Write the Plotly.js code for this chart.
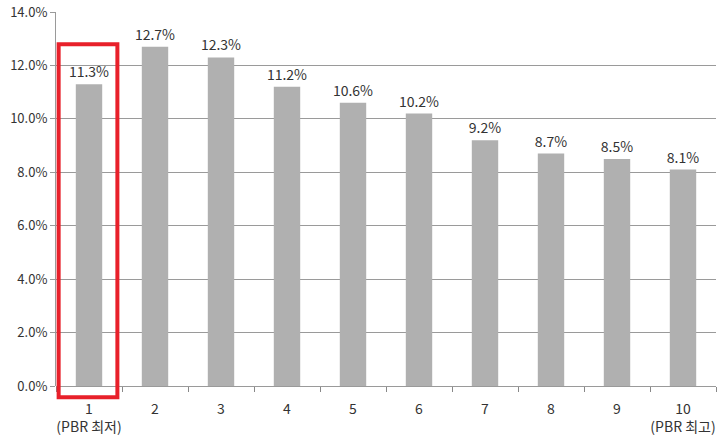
<!DOCTYPE html>
<html><head><meta charset="utf-8">
<script src="https://cdn.plot.ly/plotly-3.0.1.min.js"></script>
<style>html,body{margin:0;padding:0;background:#fff;}#chart{width:719px;height:439px;}</style>
</head><body><div id="chart"></div>
<script>
const categories = ['1','2','3','4','5','6','7','8','9','10'];
const tickLabels = ['1<br>(PBR 최저)','2','3','4','5','6','7','8','9','10<br>(PBR 최고)'];
const values = [11.3, 12.7, 12.3, 11.2, 10.6, 10.2, 9.2, 8.7, 8.5, 8.1];

const fontFam = '"Noto Sans CJK KR", "Noto Sans", sans-serif';
const trace = {
  type: 'bar',
  x: categories,
  y: values,
  marker: {color: '#b0b0b0'},
  text: values.map(v => v.toFixed(1) + '%'),
  textposition: 'outside',
  constraintext: 'none',
  cliponaxis: false,
  textfont: {family: fontFam, size: 14, color: '#333'},
  hoverinfo: 'none'
};
const layout = {
  width: 719, height: 439,
  margin: {l: 56, r: 3, t: 12, b: 53},
  paper_bgcolor: '#fff', plot_bgcolor: '#fff',
  showlegend: false,
  bargap: 0.6,
  font: {family: fontFam, size: 13, color: '#333'},
  xaxis: {
    type: 'category',
    tickvals: categories, ticktext: tickLabels,
    tickangle: 0,
    ticklabelstandoff: 13,
    tickson: 'boundaries', ticks: 'outside', ticklen: 5, tickcolor: '#888',
    showline: false, showgrid: false, zeroline: false,
    tickfont: {family: fontFam, size: 14, color: '#333'},
    range: [-0.5, 9.5]
  },
  yaxis: {
    range: [0, 14], dtick: 2, tickformat: '.1f', ticksuffix: '%',
    showgrid: true, gridcolor: '#9a9a9a', gridwidth: 1,
    showline: true, linecolor: '#9a9a9a', linewidth: 1,
    ticks: 'outside', ticklen: 5, tickcolor: '#9a9a9a',
    zeroline: true, zerolinecolor: '#9a9a9a', zerolinewidth: 1,
    tickfont: {family: fontFam, size: 13, color: '#333'}
  },
  shapes: [{
    type: 'rect', xref: 'paper', yref: 'paper',
    x0: 0.004, x1: 0.093,
    y0: -0.03, y1: 0.914,
    line: {color: '#e8202a', width: 4}, fillcolor: 'rgba(0,0,0,0)', layer: 'above'
  }]
};
Plotly.newPlot('chart', [trace], layout, {staticPlot: true});
</script></body></html>
